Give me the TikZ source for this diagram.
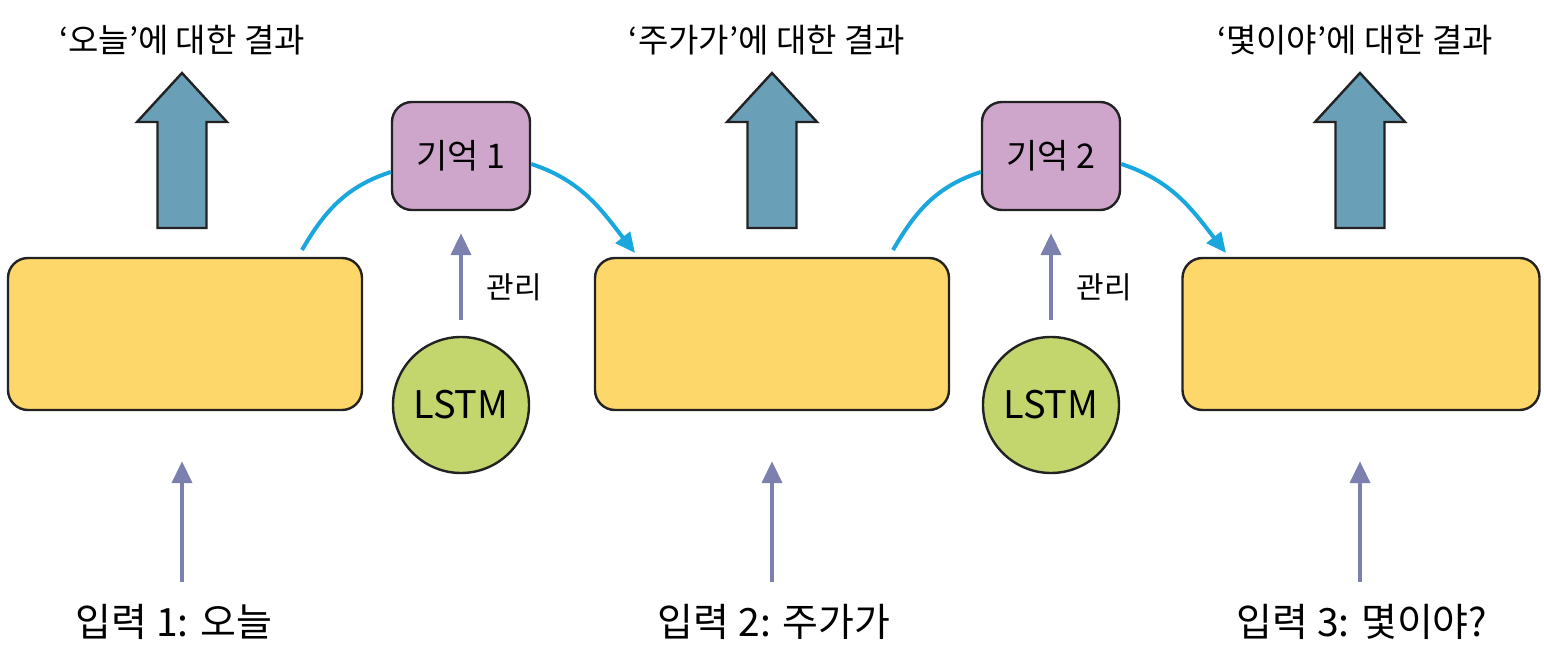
\documentclass[tikz,border=0pt]{standalone}
\usepackage{fontspec}
\setmainfont{Noto Sans CJK KR}
\usetikzlibrary{arrows.meta}
\definecolor{boxyellow}{HTML}{FDD769}
\definecolor{mempurple}{HTML}{CEA6CB}
\definecolor{lstmgreen}{HTML}{C3D66E}
\definecolor{outblue}{HTML}{6A9FB8}
\definecolor{slate}{HTML}{7B80AF}
\definecolor{cyanline}{HTML}{19A7DD}
\definecolor{edge}{HTML}{222222}
\tikzset{
  cellbox/.style={draw=edge, line width=1.2pt, fill=boxyellow, rounded corners=10pt, minimum width=177pt, minimum height=76pt},
  membox/.style={draw=edge, line width=1.2pt, fill=mempurple, rounded corners=10pt, minimum width=69pt, minimum height=54pt, font=\fontsize{17}{19}\selectfont},
  lstmnode/.style={circle, draw=edge, line width=1.2pt, fill=lstmgreen, minimum size=68pt, inner sep=0pt, font=\fontsize{19}{21}\selectfont},
  toplabel/.style={font=\fontsize{16.5}{19}\selectfont},
  inlabel/.style={font=\fontsize{19.5}{22}\selectfont},
  mgrlabel/.style={font=\fontsize{15}{17}\selectfont},
  inarrow/.style={draw=slate, line width=2pt, -{Triangle[width=10pt,length=11pt]}},
  memflow/.style={draw=cyanline, line width=2pt},
  memflowarr/.style={draw=cyanline, line width=2pt, -{Triangle[width=9pt,length=10pt]}},
  outarrow/.pic={\draw[draw=edge, line width=1.2pt, fill=outblue, line join=miter]
     (-24.5,0) -- (-24.5,106) -- (-45,106) -- (0,155) -- (45,106) -- (24.5,106) -- (24.5,0) -- cycle;}
}
\begin{document}
\begin{tikzpicture}[x=0.5pt,y=0.5pt]
\useasboundingbox (0,0) rectangle (1544,-662);
% cell boxes
\node[cellbox] (c1) at (185,-334) {};
\node[cellbox] (c2) at (772,-334) {};
\node[cellbox, minimum width=178.5pt] (c3) at (1361,-334) {};
% output arrows
\pic at (182,-228) {outarrow};
\pic at (772,-228) {outarrow};
\pic at (1360,-228) {outarrow};
% top labels
\node[toplabel] (o1) at (182,-40) {‘오늘’에 대한 결과};
\node[toplabel] (o2) at (767,-40) {‘주가가’에 대한 결과};
\node[toplabel] (o3) at (1355,-40) {‘몇이야’에 대한 결과};
% memory boxes
\node[membox] (m1) at (461,-156) {기억 1};
\node[membox] (m2) at (1051,-156) {기억 2};
% LSTM
\node[lstmnode] (l1) at (461,-405) {LSTM};
\node[lstmnode] (l2) at (1051,-405) {LSTM};
% manage arrows
\draw[inarrow, shorten <=8pt, shorten >=11pt] (l1.north) -- (m1.south);
\draw[inarrow, shorten <=8pt, shorten >=11pt] (l2.north) -- (m2.south);
\node[mgrlabel] (g1) at (514,-287) {관리};
\node[mgrlabel] (g2) at (1104,-287) {관리};
% memory flow curves
\coordinate (s1) at (302,-250);
\coordinate (e1) at (635,-253);
\coordinate (s2) at (893,-250);
\coordinate (e2) at (1226,-253);
\draw[memflow] (s1) to[out=60, in=198] ([yshift=-8]m1.west);
\draw[memflowarr] ([yshift=-4]m1.east) to[out=-18, in=128] (e1);
\draw[memflow] (s2) to[out=60, in=198] ([yshift=-8]m2.west);
\draw[memflowarr] ([yshift=-4]m2.east) to[out=-18, in=128] (e2);
% input arrows
\coordinate (i1) at (182,-582);
\coordinate (i2) at (772,-582);
\coordinate (i3) at (1360,-582);
\draw[inarrow] (i1) -- ([yshift=-25]c1.south -| i1);
\draw[inarrow] (i2) -- ([yshift=-25]c2.south -| i2);
\draw[inarrow] (i3) -- ([yshift=-25]c3.south -| i3);
% input labels
\node[inlabel] (t1) at (174,-622) {입력 1: 오늘};
\node[inlabel] (t2) at (774,-622) {입력 2: 주가가};
\node[inlabel] (t3) at (1362,-622) {입력 3: 몇이야?};
\end{tikzpicture}
\end{document}
